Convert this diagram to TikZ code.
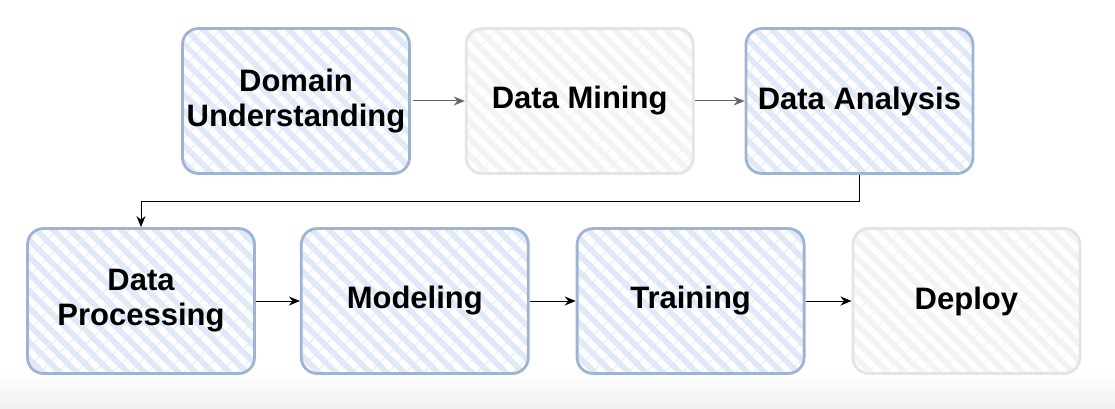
\documentclass[tikz,border=0pt]{standalone}
\usepackage{fontspec}
\setmainfont{Liberation Sans}
\usetikzlibrary{arrows.meta, positioning, patterns.meta}

\definecolor{stepblue}{HTML}{DFE9F7}
\definecolor{stepedge}{HTML}{9FB4D3}
\definecolor{stepgray}{HTML}{F3F3F3}
\definecolor{grayedge}{HTML}{E4E4E4}

\begin{document}
\begin{tikzpicture}[
    x=1pt, y=-1pt,
    % General node distance
    node distance=50pt and 50pt,
    % Styles
    stepbox/.style={rectangle, draw=stepedge, line width=2.8pt, rounded corners=16pt, minimum width=227pt, minimum height=145pt,
        preaction={fill=stepblue}, pattern={Lines[angle=-45, distance=13pt, line width=6.5pt]}, pattern color=white,
        text centered, align=center, font=\fontsize{31}{35}\selectfont\bfseries},
    idlebox/.style={stepbox, draw=grayedge, preaction={fill=stepgray}},
    arrow/.style={-{Stealth[length=11pt, width=9pt]}, line width=1pt},
    grayarrow/.style={arrow, draw=black!60}
]
% --- Canvas ---
\useasboundingbox (0,0) rectangle (1115,409);
\shade[top color=white, bottom color=black!6] (0,372) rectangle (1115,409);

% --- Top row ---
\node[stepbox] (domain) at (296,101) {Domain\\Understanding};
\node[idlebox, right = 52pt of domain] (mining) {Data Mining};
\node[stepbox, right = 50pt of mining] (analysis) {Data Analysis};

\draw[grayarrow] (domain) -- (mining);
\draw[grayarrow] (mining) -- (analysis);

% --- Bottom row ---
\node[stepbox] (processing) at (141,301) {Data\\Processing};
\node[stepbox, right = 44pt of processing] (modeling) {Modeling};
\node[stepbox, right = 46pt of modeling] (training) {Training};
\node[idlebox, right = 46pt of training] (deploy) {Deploy};

\draw[arrow] (processing) -- (modeling);
\draw[arrow] (modeling) -- (training);
\draw[arrow] (training) -- (deploy);

% --- Row change ---
\draw[arrow] (analysis.south) -- ++(0,27) -| (processing.north);

\end{tikzpicture}
\end{document}
